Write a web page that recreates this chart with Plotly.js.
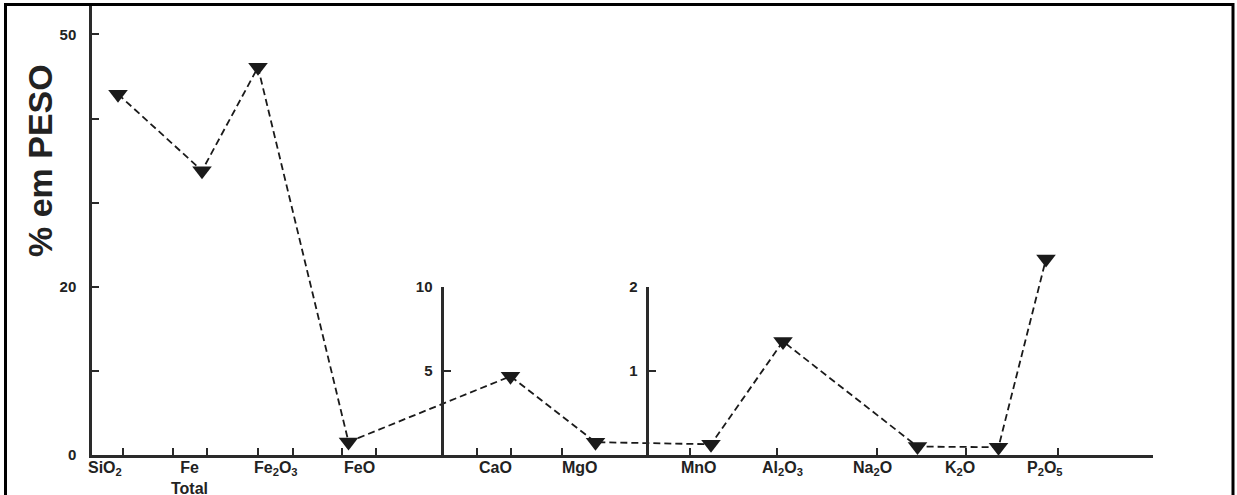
<!DOCTYPE html>
<html>
<head>
<meta charset="utf-8">
<script src="https://cdn.plot.ly/plotly-3.0.1.min.js"></script>
<style>
  html, body { margin: 0; padding: 0; background: #fff; }
  #chart { width: 1237px; height: 495px; }
</style>
</head>
<body>
<div id="chart"></div>
<script>
// ---- data ----
const categories = ['SiO2', 'Fe Total', 'Fe2O3', 'FeO', 'CaO', 'MgO', 'MnO', 'Al2O3', 'Na2O', 'K2O', 'P2O5'];
const categoryLabels = ['SiO<sub>2</sub>', 'Fe<br>Total', 'Fe<sub>2</sub>O<sub>3</sub>', 'FeO', 'CaO', 'MgO',
                        'MnO', 'Al<sub>2</sub>O<sub>3</sub>', 'Na<sub>2</sub>O', 'K<sub>2</sub>O', 'P<sub>2</sub>O<sub>5</sub>'];
// % weight values (each read on the scale of the axis it belongs to)
const values = [42.9, 33.8, 46.1, 1.55, 4.68, 0.76, 0.128, 1.35, 0.10, 0.093, 2.33];
// which vertical scale each value is read on: 0 = main axis (0-50), 1 = CaO/MgO axis (0-10), 2 = minor-oxide axis (0-2)
const scaleGroup = [0, 0, 0, 0, 1, 1, 2, 2, 2, 2, 2];
// sample positions along the horizontal axis (irregular in the original)
const samplePos = [26, 110, 166, 256.5, 418.5, 503.5, 619, 691, 825.5, 906.5, 954];
// label positions and tick positions along the horizontal axis
const labelPos = [12.5, 97.5, 184, 267.5, 403.5, 488, 607, 690.5, 780.5, 867.5, 952.5];
const xTickPos = [31, 81, 114.7, 165.7, 201.3, 249.5, 283.5, 384.7, 418.7, 470.3, 598, 684.7, 784.7, 874, 965.7];

// axis tick definitions
const mainTicks = [0, 10, 20, 30, 40, 50];
const mainTickText = ['0', '', '20', '', '', '50'];
const axis2Ticks = [0, 5, 10];
const axis2TickText = ['', '5', '10'];
const axis3Ticks = [0, 1, 2];
const axis3TickText = ['', '1', '2'];
// top tick of each scale sits at the same height (20 on the main axis)
const scaleTop = [20, 10, 2];
const axis2Pos = 350.3;
const axis3Pos = 555.3;

// ---- layout constants ----
const xMax = 1061;
const yMax = 53.5;
const axisColor = '#2a2a2a';
const fontFamily = 'Liberation Sans, Arial, Helvetica, sans-serif';

// convert each value onto the main axis through the ratio of scales
const displayY = values.map((v, i) => v * scaleTop[0] / scaleTop[scaleGroup[i]]);

const traces = [
  {
    x: samplePos,
    y: displayY,
    text: categories,
    customdata: values,
    hovertemplate: '%{text}: %{customdata}%<extra></extra>',
    mode: 'lines+markers',
    type: 'scatter',
    xaxis: 'x',
    yaxis: 'y',
    cliponaxis: false,
    line: { color: '#1a1a1a', width: 1.8, dash: '7px,4px' },
    marker: { symbol: 'triangle-down', size: 17, color: '#1a1a1a' },
    showlegend: false
  },
  { x: [null], y: [null], xaxis: 'x', yaxis: 'y2', mode: 'markers', showlegend: false, hoverinfo: 'skip' },
  { x: [null], y: [null], xaxis: 'x', yaxis: 'y3', mode: 'markers', showlegend: false, hoverinfo: 'skip' }
];

const secDomainTop = scaleTop[0] / yMax;

const commonY = {
  showgrid: false,
  zeroline: false,
  showline: true,
  linecolor: axisColor,
  linewidth: 2.5,
  ticks: 'inside',
  ticklen: 7,
  tickwidth: 2,
  tickcolor: axisColor,
  tickfont: { family: fontFamily, size: 15, color: '#222', weight: 'bold' },
  fixedrange: true
};

const annotations = categoryLabels.map((t, i) => ({
  text: t,
  x: labelPos[i],
  xref: 'x',
  y: 0,
  yref: 'paper',
  xanchor: 'center',
  yanchor: 'top',
  yshift: -2,
  showarrow: false,
  font: { family: fontFamily, size: 16, color: '#222', weight: 'bold' }
}));

annotations.push({
  text: '% em PESO',
  textangle: -90,
  x: (40 - 92) / xMax,
  xref: 'paper',
  y: (455 - 161) / 450,
  yref: 'paper',
  xanchor: 'center',
  yanchor: 'middle',
  showarrow: false,
  font: { family: fontFamily, size: 34, color: '#222', weight: 'bold' }
});

const layout = {
  width: 1237,
  height: 495,
  margin: { l: 92, r: 84, t: 5, b: 40 },
  paper_bgcolor: '#ffffff',
  plot_bgcolor: 'rgba(0,0,0,0)',
  showlegend: false,
  xaxis: {
    range: [0, xMax],
    showgrid: false,
    zeroline: false,
    showline: true,
    linecolor: axisColor,
    linewidth: 2.5,
    ticks: 'inside',
    tickvals: xTickPos,
    ticklen: 7,
    tickwidth: 2,
    tickcolor: axisColor,
    showticklabels: false,
    fixedrange: true
  },
  yaxis: Object.assign({}, commonY, {
    range: [0, yMax],
    tickvals: mainTicks,
    ticktext: mainTickText,
    ticklabelstandoff: 10
  }),
  yaxis2: Object.assign({}, commonY, {
    domain: [0, secDomainTop],
    range: [0, scaleTop[1]],
    anchor: 'free',
    position: axis2Pos / xMax,
    tickvals: axis2Ticks,
    ticktext: axis2TickText,
    ticklabelstandoff: 6
  }),
  yaxis3: Object.assign({}, commonY, {
    domain: [0, secDomainTop],
    range: [0, scaleTop[2]],
    anchor: 'free',
    position: axis3Pos / xMax,
    tickvals: axis3Ticks,
    ticktext: axis3TickText,
    ticklabelstandoff: 6
  }),
  annotations: annotations,
  shapes: [{
    type: 'rect',
    xref: 'paper', yref: 'paper',
    x0: (5.5 - 92) / xMax, x1: (1233 - 92) / xMax,
    y0: (455 - 520) / 450, y1: (455 - 4.5) / 450,
    line: { color: '#000', width: 3 },
    fillcolor: 'rgba(0,0,0,0)'
  }]
};

Plotly.newPlot('chart', traces, layout, { displayModeBar: false, staticPlot: false });
</script>
</body>
</html>
